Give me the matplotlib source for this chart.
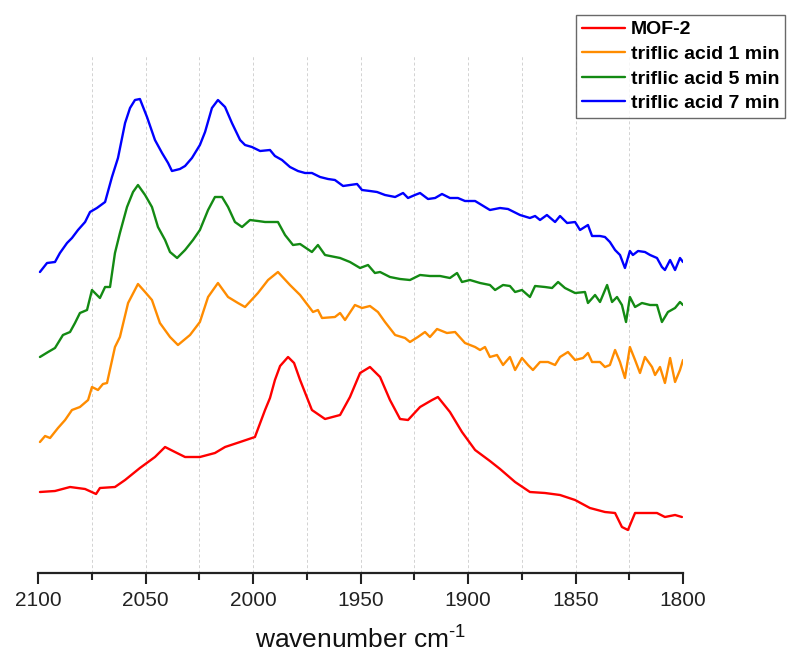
import matplotlib
matplotlib.use("Agg")
import matplotlib.pyplot as plt
from matplotlib.ticker import MultipleLocator

plt.rcParams['font.family'] = ['Liberation Sans', 'DejaVu Sans']
plt.rcParams['mathtext.fontset'] = 'custom'
plt.rcParams['mathtext.rm'] = 'Liberation Sans'
plt.rcParams['mathtext.it'] = 'Liberation Sans'

# ---------------- data ----------------
mof_wn = [2099.1, 2092.1, 2085.1, 2078.1, 2073.0, 2071.2, 2064.2, 2059.5, 2052.6, 2045.6,
          2040.9, 2036.3, 2031.6, 2024.7, 2017.7, 2013.0, 2006.0, 1999.1, 1994.4, 1992.1,
          1989.8, 1987.4, 1983.7, 1980.9, 1978.1, 1972.6, 1966.5, 1959.5, 1954.9, 1950.2,
          1945.6, 1940.9, 1936.3, 1931.6, 1927.9, 1922.3, 1916.7, 1914.0, 1908.4, 1902.8,
          1896.7, 1889.8, 1885.1, 1878.1, 1871.2, 1864.2, 1857.2, 1850.2, 1843.3, 1836.3,
          1831.6, 1828.4, 1825.6, 1822.3, 1816.3, 1812.1, 1808.4, 1803.7, 1800.5]
mof_y = [0.81, 0.82, 0.86, 0.84, 0.79, 0.85, 0.86, 0.93, 1.05, 1.16,
         1.26, 1.21, 1.16, 1.16, 1.20, 1.26, 1.31, 1.36, 1.63, 1.75,
         1.93, 2.07, 2.16, 2.10, 1.93, 1.63, 1.54, 1.58, 1.76, 2.00,
         2.06, 1.96, 1.73, 1.54, 1.53, 1.66, 1.73, 1.76, 1.61, 1.41,
         1.23, 1.12, 1.04, 0.91, 0.81, 0.80, 0.78, 0.73, 0.65, 0.61,
         0.60, 0.46, 0.43, 0.60, 0.60, 0.60, 0.56, 0.58, 0.56]

tf1_wn = [2099.1, 2096.7, 2094.4, 2090.7, 2087.4, 2084.2, 2080.5, 2076.7, 2074.9, 2072.1,
          2069.8, 2067.9, 2064.2, 2061.9, 2058.1, 2053.5, 2050.2, 2047.0, 2043.3, 2038.6,
          2034.9, 2029.3, 2024.7, 2020.9, 2016.3, 2011.6, 2007.0, 2003.7, 1997.7, 1993.0,
          1988.4, 1982.8, 1978.1, 1972.1, 1969.8, 1967.9, 1961.9, 1959.5, 1957.2, 1952.6,
          1949.3, 1945.6, 1941.9, 1938.6, 1933.9, 1929.3, 1927.0, 1923.3, 1920.0, 1917.7,
          1914.4, 1909.8, 1906.0, 1901.4, 1896.7, 1894.4, 1892.1, 1889.8, 1886.5, 1883.7,
          1880.5, 1878.1, 1874.9, 1872.1, 1869.8, 1866.5, 1862.8, 1859.5, 1857.2, 1853.5,
          1850.2, 1846.5, 1844.2, 1842.3, 1838.6, 1836.3, 1834.0, 1831.6, 1829.3, 1827.0,
          1824.7, 1822.3, 1820.0, 1817.7, 1814.4, 1813.0, 1810.7, 1808.4, 1806.0, 1803.7,
          1801.4, 1800.0]
tf1_y = [1.31, 1.37, 1.35, 1.45, 1.53, 1.63, 1.66, 1.73, 1.86, 1.83,
         1.89, 1.90, 2.26, 2.36, 2.70, 2.89, 2.81, 2.73, 2.50, 2.36,
         2.28, 2.38, 2.51, 2.76, 2.90, 2.76, 2.70, 2.66, 2.80, 2.93,
         3.01, 2.88, 2.78, 2.61, 2.63, 2.55, 2.56, 2.60, 2.53, 2.68,
         2.65, 2.67, 2.61, 2.51, 2.38, 2.35, 2.31, 2.36, 2.41, 2.36,
         2.44, 2.40, 2.41, 2.30, 2.26, 2.23, 2.26, 2.16, 2.18, 2.08,
         2.16, 2.03, 2.15, 2.08, 2.03, 2.11, 2.11, 2.08, 2.16, 2.21,
         2.13, 2.15, 2.20, 2.11, 2.11, 2.06, 2.08, 2.23, 2.11, 1.95,
         2.26, 2.13, 2.00, 2.16, 2.06, 1.98, 2.06, 1.90, 2.15, 1.91,
         2.03, 2.13]

tf5_wn = [2099.1, 2095.3, 2092.1, 2088.4, 2085.1, 2082.8, 2080.5, 2077.2, 2074.9, 2071.2,
          2068.8, 2066.5, 2064.2, 2061.9, 2058.6, 2055.8, 2053.5, 2050.2, 2047.0, 2044.2,
          2040.9, 2038.6, 2035.3, 2031.6, 2027.9, 2024.7, 2020.9, 2017.7, 2014.4, 2011.6,
          2008.4, 2005.1, 2001.4, 1997.7, 1994.4, 1988.4, 1985.1, 1981.4, 1978.1, 1972.6,
          1969.8, 1966.5, 1959.5, 1954.9, 1950.2, 1946.5, 1943.3, 1940.9, 1936.3, 1931.6,
          1927.0, 1922.3, 1917.7, 1913.0, 1908.4, 1905.1, 1902.8, 1899.1, 1894.4, 1889.8,
          1887.4, 1883.7, 1880.5, 1878.1, 1874.9, 1871.2, 1868.8, 1864.2, 1860.9, 1858.1,
          1854.9, 1850.2, 1845.6, 1844.2, 1840.9, 1838.6, 1835.3, 1833.0, 1830.7, 1828.4,
          1826.5, 1824.7, 1822.3, 1819.1, 1815.3, 1812.1, 1809.8, 1807.0, 1803.7, 1801.4,
          1800.0]
tf5_y = [2.16, 2.21, 2.25, 2.38, 2.41, 2.50, 2.60, 2.63, 2.83, 2.75,
         2.86, 2.86, 3.20, 3.40, 3.66, 3.81, 3.88, 3.78, 3.66, 3.46,
         3.33, 3.21, 3.15, 3.23, 3.33, 3.43, 3.63, 3.76, 3.76, 3.66,
         3.51, 3.46, 3.53, 3.52, 3.51, 3.51, 3.38, 3.28, 3.29, 3.21,
         3.28, 3.18, 3.15, 3.11, 3.05, 3.08, 3.00, 3.01, 2.96, 2.94,
         2.93, 2.98, 2.97, 2.97, 2.95, 3.00, 2.91, 2.93, 2.90, 2.88,
         2.83, 2.88, 2.87, 2.81, 2.83, 2.76, 2.87, 2.86, 2.85, 2.91,
         2.85, 2.80, 2.81, 2.70, 2.78, 2.71, 2.88, 2.71, 2.76, 2.68,
         2.51, 2.76, 2.66, 2.70, 2.68, 2.68, 2.51, 2.61, 2.65, 2.71,
         2.68]

tf7_wn = [2099.1, 2095.8, 2092.1, 2089.8, 2086.5, 2084.2, 2081.4, 2078.1, 2075.8, 2072.6,
          2068.8, 2065.6, 2062.8, 2059.5, 2057.2, 2054.9, 2052.6, 2049.3, 2045.6, 2042.3,
          2039.5, 2037.7, 2034.0, 2031.6, 2028.4, 2024.7, 2022.3, 2019.1, 2016.3, 2013.0,
          2009.8, 2006.0, 2003.7, 2000.5, 1996.7, 1992.1, 1989.8, 1986.5, 1982.8, 1979.1,
          1975.8, 1972.6, 1968.8, 1965.1, 1961.9, 1958.1, 1954.9, 1951.6, 1949.3, 1945.6,
          1942.3, 1938.6, 1933.9, 1930.2, 1927.9, 1924.7, 1922.3, 1918.6, 1915.3, 1912.1,
          1908.4, 1904.7, 1901.4, 1896.7, 1894.4, 1889.8, 1885.1, 1881.4, 1875.8, 1871.2,
          1868.8, 1866.5, 1863.3, 1859.5, 1857.2, 1853.9, 1850.2, 1847.9, 1844.2, 1842.3,
          1838.6, 1836.3, 1834.0, 1831.6, 1829.3, 1827.0, 1824.7, 1823.3, 1820.9, 1817.7,
          1815.3, 1812.1, 1809.8, 1808.4, 1806.0, 1803.7, 1801.4, 1800.0]
tf7_y = [3.01, 3.10, 3.11, 3.20, 3.30, 3.35, 3.43, 3.51, 3.61, 3.65,
         3.71, 3.96, 4.15, 4.50, 4.65, 4.73, 4.74, 4.56, 4.33, 4.20,
         4.10, 4.02, 4.04, 4.07, 4.15, 4.28, 4.41, 4.65, 4.73, 4.66,
         4.50, 4.33, 4.28, 4.26, 4.22, 4.23, 4.17, 4.13, 4.06, 4.02,
         4.00, 4.00, 3.96, 3.94, 3.93, 3.87, 3.88, 3.89, 3.83, 3.82,
         3.81, 3.78, 3.76, 3.80, 3.75, 3.78, 3.80, 3.74, 3.75, 3.79,
         3.75, 3.75, 3.72, 3.72, 3.69, 3.63, 3.65, 3.64, 3.58, 3.55,
         3.57, 3.53, 3.58, 3.51, 3.57, 3.50, 3.51, 3.43, 3.48, 3.37,
         3.37, 3.36, 3.31, 3.23, 3.18, 3.05, 3.22, 3.18, 3.22, 3.21,
         3.18, 3.15, 3.06, 3.03, 3.13, 3.03, 3.15, 3.11]

labels = ["MOF-2", "triflic acid 1 min", "triflic acid 5 min", "triflic acid 7 min"]
colors = ["#ff0000", "#ff8c00", "#138a13", "#0000ff"]
grid_positions = [2075, 2050, 2025, 2000, 1975, 1950, 1925, 1900, 1875, 1850, 1825]

# ---------------- figure ----------------
fig = plt.figure(figsize=(8.0, 6.69), dpi=100)
ax = fig.add_axes([38/800, 1-573/669, (683-38)/800, (573-55)/669])

for pos in grid_positions:
    ax.axvline(pos, color="#d2d2d2", lw=0.7, ls=(0, (3, 2.5)), zorder=0)

series = [(mof_wn, mof_y), (tf1_wn, tf1_y), (tf5_wn, tf5_y), (tf7_wn, tf7_y)]
lines = []
for (wn, y), lab, c in zip(series, labels, colors):
    ln, = ax.plot(wn, y, color=c, lw=1.7, label=lab,
                  solid_joinstyle="round", solid_capstyle="round")
    lines.append(ln)

ax.set_xlim(2100, 1800)
ax.set_ylim(0, 5.18)
ax.xaxis.set_major_locator(MultipleLocator(50))
ax.xaxis.set_minor_locator(MultipleLocator(25))
ax.tick_params(axis="x", which="major", direction="out", length=8, width=1.5,
               labelsize=15, pad=5, colors="#222222")
ax.tick_params(axis="x", which="minor", direction="out", length=5, width=1.5,
               colors="#222222")
ax.set_yticks([])
for s in ["left", "right", "top"]:
    ax.spines[s].set_visible(False)
ax.spines["bottom"].set_linewidth(1.6)
ax.spines["bottom"].set_color("#222222")

ax.set_xlabel(r"wavenumber cm$^{\text{-}1}$", fontsize=19, labelpad=12, color="#111111")

leg = fig.legend(handles=lines, labels=labels, loc="upper right",
                 bbox_to_anchor=(785/800, 1-15/669), frameon=True, fancybox=False,
                 prop={"size": 14, "weight": "bold"}, handlelength=2.2,
                 handletextpad=0.3, labelspacing=0.36, borderpad=0.3,
                 borderaxespad=0)
leg.get_frame().set_edgecolor("#444444")
leg.get_frame().set_linewidth(1.0)

fig.savefig("out.png", dpi=100)
